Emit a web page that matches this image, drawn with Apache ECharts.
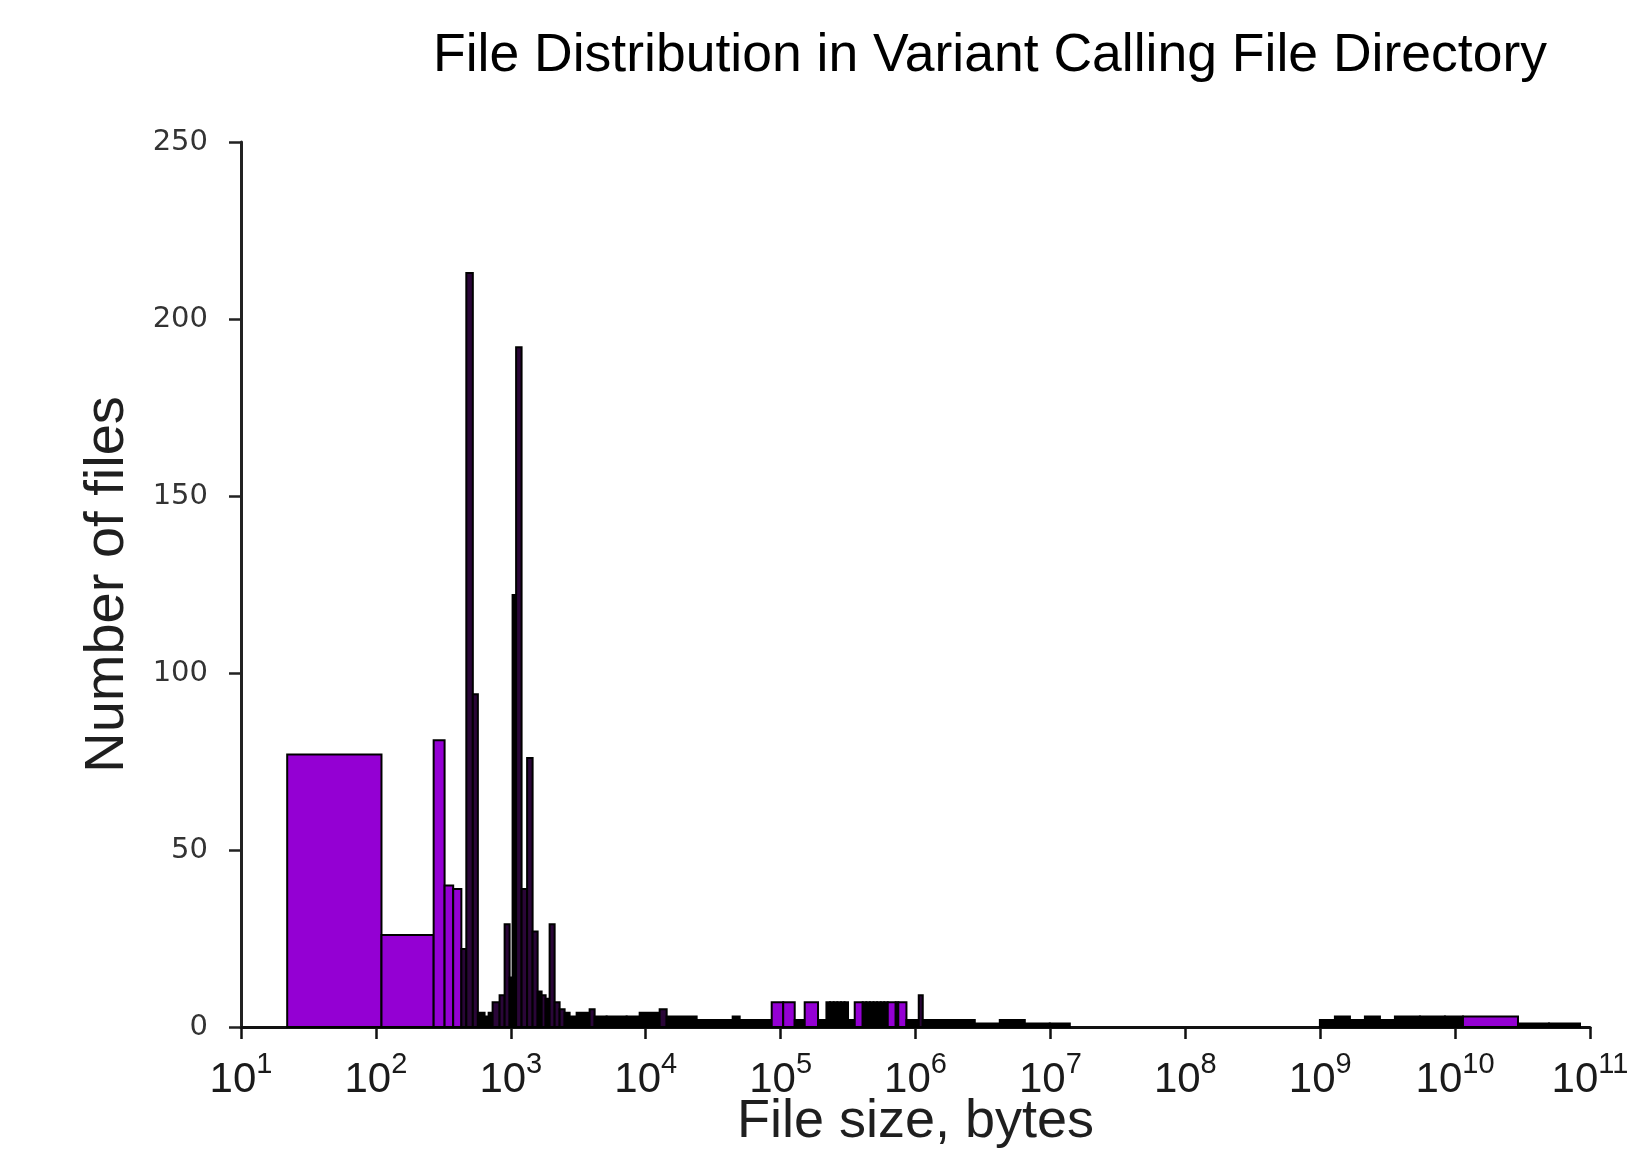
<!DOCTYPE html>
<html>
<head>
<meta charset="utf-8">
<script src="https://cdn.jsdelivr.net/npm/echarts@6/dist/echarts.min.js"></script>
<style>
  html, body { margin: 0; padding: 0; background: #fff; }
  #chart { width: 1631px; height: 1149px; }
</style>
</head>
<body>
<div id="chart"></div>
<script>
// each bin: [from bytes, to bytes, number of files]
const smallFileBins = [
  [22, 110, 77],
  [110, 268, 26],
  [268, 323, 81],
  [323, 374, 40],
  [374, 430, 39],
  [430, 468, 22],
  [468, 523, 213],
  [523, 570, 94],
  [570, 639, 4],
  [639, 685, 3],
  [685, 733, 4],
  [733, 826, 7],
  [826, 900, 9],
  [900, 980, 29],
  [980, 1031, 14],
  [1031, 1095, 122],
  [1095, 1202, 192],
  [1202, 1321, 39],
  [1321, 1451, 76],
  [1451, 1581, 27],
  [1581, 1692, 10],
  [1692, 1812, 9],
  [1812, 1940, 8],
  [1940, 2113, 29],
  [2113, 2301, 7],
  [2301, 2506, 5]
];

const kilobyteBins = [
  [2506, 2729, 4],
  [2729, 3076, 3],
  [3076, 3840, 4],
  [3840, 4182, 5],
  [4182, 5133, 3],
  [5133, 7224, 3],
  [7224, 9019, 3],
  [9019, 12690, 4],
  [12690, 14300, 5],
  [14300, 23860, 3],
  [23860, 44130, 2],
  [44130, 49730, 3],
  [49730, 85900, 2]
];

const megabyteBins = [
  [85900, 104540, 7],
  [104540, 127230, 7],
  [127230, 150880, 2],
  [150880, 189400, 7],
  [189400, 218630, 2],
  [218630, 232490, 7],
  [232490, 247570, 7],
  [247570, 263330, 7],
  [263330, 280070, 7],
  [280070, 297800, 7],
  [297800, 316080, 7],
  [316080, 354400, 2],
  [354400, 406260, 7],
  [406260, 431950, 7],
  [431950, 459320, 7],
  [459320, 488410, 7],
  [488410, 519350, 7],
  [519350, 552230, 7],
  [552230, 586600, 7],
  [586600, 622590, 7],
  [622590, 713700, 7],
  [713700, 745000, 7],
  [745000, 856900, 7],
  [856900, 1057100, 2],
  [1057100, 1131800, 9],
  [1131800, 1794700, 2],
  [1794700, 2750500, 2],
  [2750500, 4214600, 1],
  [4214600, 6459300, 2],
  [6459300, 9896900, 1],
  [9896900, 13928000, 1]
];

const gigabyteBins = [
  [9.949e8, 1.2853e9, 2],
  [1.2853e9, 1.6608e9, 3],
  [1.6608e9, 2.1453e9, 2],
  [2.1453e9, 2.7712e9, 3],
  [2.7712e9, 3.58e9, 2],
  [3.58e9, 5.4868e9, 3],
  [5.4868e9, 8.4096e9, 3],
  [8.4096e9, 1.1435e10, 3],
  [1.1435e10, 2.9253e10, 3],
  [2.9253e10, 4.9659e10, 1],
  [4.9659e10, 8.431e10, 1]
];

const xTickValues = [1e1, 1e2, 1e3, 1e4, 1e5, 1e6, 1e7, 1e8, 1e9, 1e10, 1e11];
const yTicks = [0, 50, 100, 150, 200, 250];

const allBins = smallFileBins.concat(kilobyteBins, megabyteBins, gigabyteBins);

const chart = echarts.init(document.getElementById('chart'));

// 画直方图的矩形
function renderBin(params, api) {
  const p0 = api.coord([api.value(0), api.value(2)]);
  const p1 = api.coord([api.value(1), 0]);
  const w = p1[0] - p0[0];
  const h = p1[1] - p0[1];
  // narrow or low bins are mostly outline, so they look dark
  let fill = '#9400D3';
  if (w < 4) fill = '#000';
  else if (w < 7.5) fill = '#2a0638';
  if (h < 16 && w < 40) fill = '#000';
  return {
    type: 'rect',
    shape: { x: p0[0], y: p0[1], width: w, height: h },
    style: { fill: fill, stroke: '#000', lineWidth: 2 }
  };
}

const labelFont = 'Liberation Sans Narrow, Liberation Sans, Arial, sans-serif';

const option = {
  backgroundColor: '#fff',
  animation: false,
  title: {
    text: 'File Distribution in Variant Calling File Directory',
    left: 433,
    top: 29,
    padding: 0,
    textStyle: {
      fontSize: 53.5,
      fontWeight: 'normal',
      color: '#000',
      fontFamily: 'Liberation Sans, Arial, sans-serif'
    }
  },
  grid: {
    left: 241,
    right: 41,
    top: 142,
    bottom: 122,
    containLabel: false,
    outerBoundsMode: 'none'
  },
  xAxis: {
    type: 'log',
    logBase: 10,
    min: xTickValues[0],
    max: xTickValues[xTickValues.length - 1],
    name: 'File size, bytes',
    nameLocation: 'middle',
    nameGap: 68,
    nameMoveOverlap: false,
    nameTextStyle: {
      fontSize: 54,
      color: '#1f1f1f',
      fontFamily: 'Liberation Sans, Arial, sans-serif'
    },
    axisLine: { lineStyle: { color: '#111', width: 3 } },
    axisTick: {
      length: 12,
      customValues: xTickValues,
      lineStyle: { color: '#111', width: 2.5 }
    },
    splitLine: { show: false },
    minorTick: { show: false },
    axisLabel: {
      margin: 23,
      customValues: xTickValues,
      formatter: function (v) {
        const e = Math.round(Math.log10(v));
        return '{b|10}{s|' + e + '}';
      },
      rich: {
        b: {
          fontSize: 42,
          lineHeight: 60,
          color: '#1a1a1a',
          fontFamily: labelFont
        },
        s: {
          fontSize: 29,
          verticalAlign: 'top',
          color: '#1a1a1a',
          fontFamily: labelFont
        }
      }
    }
  },
  yAxis: {
    type: 'value',
    min: yTicks[0],
    max: yTicks[yTicks.length - 1],
    interval: 50,
    name: 'Number of files',
    nameLocation: 'middle',
    nameGap: 105,
    nameMoveOverlap: false,
    nameTextStyle: {
      fontSize: 56,
      color: '#1f1f1f',
      fontFamily: 'Liberation Sans, Arial, sans-serif'
    },
    axisLine: { show: true, lineStyle: { color: '#222', width: 3 } },
    axisTick: { show: true, length: 12, lineStyle: { color: '#222', width: 2.5 } },
    splitLine: { show: false },
    axisLabel: {
      margin: 33,
      fontSize: 29,
      color: '#333',
      fontFamily: 'DejaVu Sans, sans-serif'
    }
  },
  series: [
    {
      type: 'custom',
      renderItem: renderBin,
      encode: { x: [0, 1], y: 2 },
      data: allBins
    }
  ]
};

chart.setOption(option);
</script>
</body>
</html>
